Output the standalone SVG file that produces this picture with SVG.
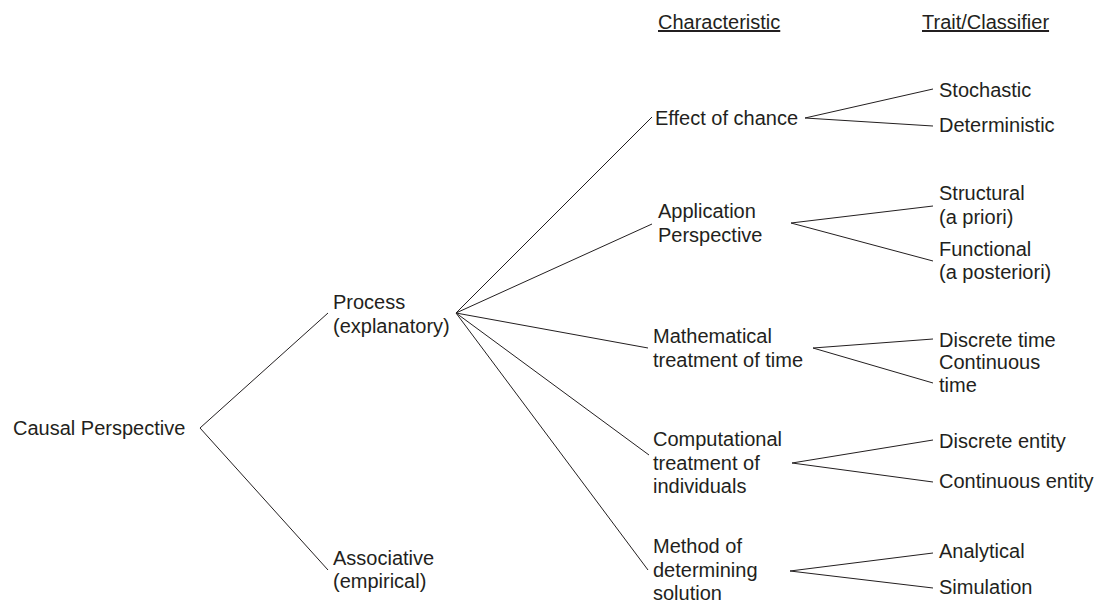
<svg xmlns="http://www.w3.org/2000/svg" width="1104" height="604" viewBox="0 0 1104 604">
<style>
text{font-family:"Liberation Sans",Arial,sans-serif;font-size:20px;fill:#231f20}
.c line{stroke:#231f20;stroke-width:1;fill:none}
.u{text-decoration:underline}
</style>
<rect width="1104" height="604" fill="#ffffff"/>
<g id="headers">
<text class="u" x="658" y="29">Characteristic</text>
<text class="u" x="922" y="29">Trait/Classifier</text>
</g>
<g class="c" id="connectors">
<line x1="200" y1="428" x2="328" y2="313"/>
<line x1="200" y1="428" x2="328" y2="570"/>
<line x1="456" y1="313" x2="652" y2="117"/>
<line x1="456" y1="313" x2="652" y2="224"/>
<line x1="456" y1="313" x2="648" y2="348"/>
<line x1="456" y1="313" x2="649" y2="455"/>
<line x1="456" y1="313" x2="648" y2="570"/>
<line x1="805" y1="118" x2="933" y2="89"/>
<line x1="805" y1="118" x2="933" y2="126"/>
<line x1="791" y1="223" x2="933" y2="206"/>
<line x1="791" y1="223" x2="933" y2="261"/>
<line x1="813" y1="348" x2="933" y2="339"/>
<line x1="813" y1="348" x2="933" y2="383"/>
<line x1="792" y1="463" x2="933" y2="440"/>
<line x1="792" y1="463" x2="933" y2="482"/>
<line x1="790" y1="571" x2="933" y2="553"/>
<line x1="790" y1="571" x2="933" y2="588"/>
</g>
<g id="causal"><text x="13" y="435">Causal Perspective</text></g>
<g id="process"><text x="333" y="309">Process</text><text x="333" y="333">(explanatory)</text></g>
<g id="associative"><text x="333" y="565">Associative</text><text x="333" y="588">(empirical)</text></g>
<g id="effect"><text x="655" y="125">Effect of chance</text></g>
<g id="application"><text x="658" y="218">Application</text><text x="658" y="242">Perspective</text></g>
<g id="math"><text x="653" y="343">Mathematical</text><text x="653" y="367">treatment of time</text></g>
<g id="comp"><text x="653" y="446">Computational</text><text x="653" y="470">treatment of</text><text x="653" y="493">individuals</text></g>
<g id="method"><text x="653" y="553">Method of</text><text x="653" y="577">determining</text><text x="653" y="600">solution</text></g>
<g id="stochastic"><text x="939" y="97">Stochastic</text></g>
<g id="deterministic"><text x="939" y="132">Deterministic</text></g>
<g id="structural"><text x="939" y="200">Structural</text><text x="939" y="224">(a priori)</text></g>
<g id="functional"><text x="939" y="256">Functional</text><text x="939" y="279">(a posteriori)</text></g>
<g id="discrete-time"><text x="939" y="347">Discrete time</text></g>
<g id="continuous-time"><text x="939" y="369">Continuous</text><text x="939" y="392">time</text></g>
<g id="discrete-entity"><text x="939" y="448">Discrete entity</text></g>
<g id="continuous-entity"><text x="939" y="488">Continuous entity</text></g>
<g id="analytical"><text x="939" y="558">Analytical</text></g>
<g id="simulation"><text x="939" y="594">Simulation</text></g>
</svg>
